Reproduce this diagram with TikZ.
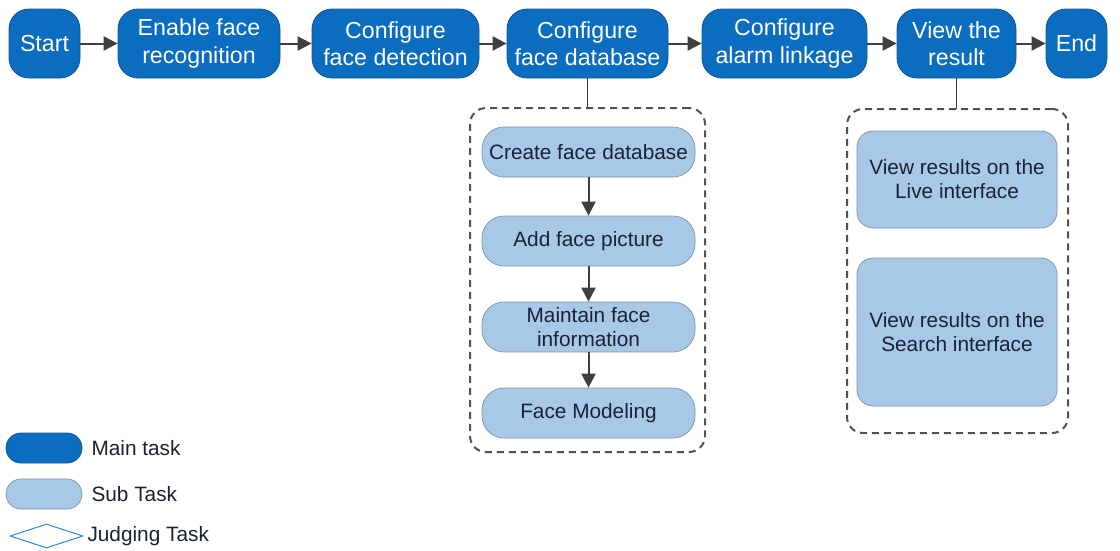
\documentclass[tikz,border=0pt]{standalone}
\usepackage{fontspec}
\setmainfont{Liberation Sans}
\usepackage{tikz}
\usetikzlibrary{arrows.meta, positioning, shapes.geometric}
\definecolor{mblue}{HTML}{0B6DC0}
\definecolor{mbluedark}{HTML}{0A5596}
\definecolor{sblue}{HTML}{A8C8E8}
\definecolor{sbluedark}{HTML}{7E93AA}
\definecolor{stext}{HTML}{1A2233}
\definecolor{agray}{HTML}{3F3F3F}
\definecolor{jblue}{HTML}{2A8CE0}

\begin{document}
\begin{tikzpicture}[x=1pt, y=-1pt,
  mainbox/.style={draw=mbluedark, fill=mblue, line width=0.8pt, rounded corners=20pt,
    minimum height=69pt, inner sep=0pt, align=center, text=white,
    font=\fontsize{23.2}{27.5}\selectfont},
  subbox/.style={draw=sbluedark, fill=sblue, line width=0.7pt, rounded corners=22pt,
    minimum width=213pt, minimum height=50pt, inner sep=0pt, align=center, text=stext,
    font=\fontsize{20.8}{24}\selectfont},
  viewbox/.style={subbox, rounded corners=16pt, minimum width=200pt},
  groupbox/.style={draw=agray!90, line width=2pt, dash pattern=on 7pt off 5pt,
    rounded corners=16pt, inner sep=0pt, outer sep=0pt},
  flow/.style={draw=agray, line width=2pt, -{Triangle[length=14pt, width=14pt]}},
  link/.style={draw=agray, line width=1.8pt},
  legtext/.style={anchor=west, text=stext, font=\fontsize{20.8}{24}\selectfont}]
\useasboundingbox (0,0) rectangle (1120,550);
% main flow
\node[mainbox, minimum width=71pt]  (start)    at (44.5,43.5)  {Start};
\node[mainbox, minimum width=162pt] (enable)   at (199,43.5)   {Enable face\\recognition};
\node[mainbox, minimum width=167pt] (detect)   at (395.5,43.5) {Configure\\face detection};
\node[mainbox, minimum width=161pt] (database) at (587.5,43.5) {Configure\\face database};
\node[mainbox, minimum width=165pt] (alarm)    at (784.5,43.5) {Configure\\alarm linkage};
\node[mainbox, minimum width=119pt] (result)   at (956.5,43.5) {View the\\result};
\node[mainbox, minimum width=61pt]  (end)      at (1076.5,43.5) {End};
\draw[flow] (start) -- (enable);
\draw[flow] (enable) -- (detect);
\draw[flow] (detect) -- (database);
\draw[flow] (database) -- (alarm);
\draw[flow] (alarm) -- (result);
\draw[flow] (result) -- (end);
% face database group
\node[groupbox, minimum width=235pt, minimum height=344pt] (dbgroup) at (587.5,280) {};
\draw[link] (database.south) -- (dbgroup.north);
\node[subbox] (create)   at (588.5,152) {Create face database};
\node[subbox] (addpic)   at (588.5,241) {Add face picture};
\node[subbox] (maintain) at (588.5,327) {Maintain face\\information};
\node[subbox] (model)    at (588.5,413) {Face Modeling};
\draw[flow] (create) -- (addpic);
\draw[flow] (addpic) -- (maintain);
\draw[flow] (maintain) -- (model);
% result group
\node[groupbox, minimum width=221pt, minimum height=324pt] (resgroup) at (957.5,271) {};
\draw[link] (result.south) -- (result.south |- resgroup.north);
\node[viewbox, minimum height=97pt]  (live)   at (957,179.5) {View results on the\\Live interface};
\node[viewbox, minimum height=148pt] (search) at (957,332)   {View results on the\\Search interface};
% legend
\node[draw=mbluedark, fill=mblue, line width=0.8pt, rounded corners=15pt,
  minimum width=76pt, minimum height=30pt, inner sep=0pt] (legmain) at (44,448) {};
\node[legtext] (legmaintext) at (88,448) {Main task};
\node[draw=sbluedark, fill=sblue, line width=0.7pt, rounded corners=15pt,
  minimum width=76pt, minimum height=30pt, inner sep=0pt] (legsub) at (44,494) {};
\node[legtext] (legsubtext) at (88,494) {Sub Task};
\node[diamond, draw=jblue, fill=white, line width=1pt, inner sep=0pt,
  minimum width=73pt, minimum height=24pt] (legjudge) at (46.5,536) {};
\node[legtext] (legjudgetext) at (84,536) {Judging Task};
\end{tikzpicture}
\end{document}
